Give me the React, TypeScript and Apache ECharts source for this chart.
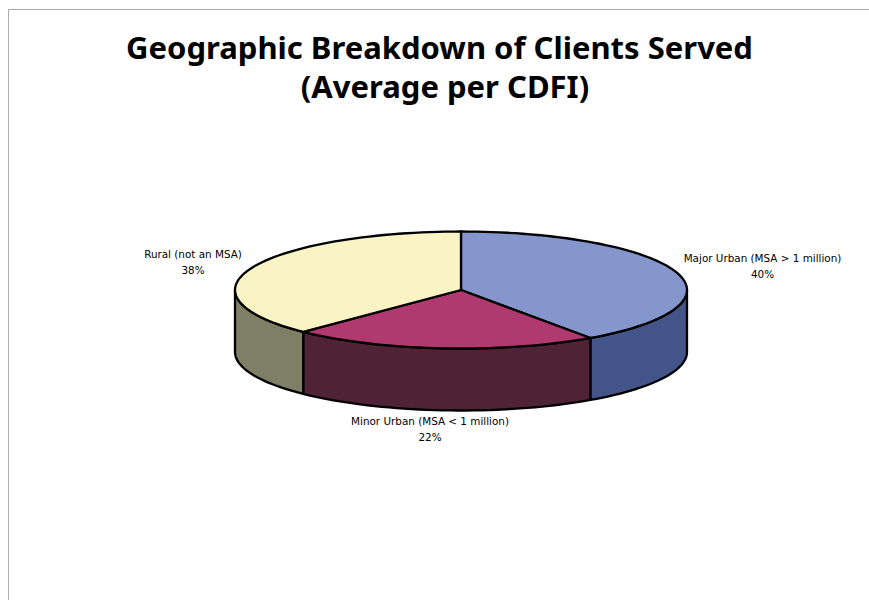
import React, { useEffect, useRef } from "react";
import * as echarts from "echarts";

const categories = ["Major Urban (MSA > 1 million)", "Minor Urban (MSA < 1 million)", "Rural (not an MSA)"];
const values = [40.3, 22, 37.7];
const topColors = ["#8596CC", "#B0396F", "#FAF4C4"];
const sideColors = ["#425488", "#502236", "#7F7F66"];
const labelCenters = [
  [762.5, 266],
  [430, 429],
  [193, 262],
];
const titleLines = ["Geographic Breakdown of Clients Served", "(Average per CDFI)"];
const titleCenters = [439.5, 445];
const titleTops = [27, 66];

const CX = 461;
const CY = 290;
const RX = 226;
const RY = 58.5;
const DEPTH = 62;
const total = values.reduce((a, b) => a + b, 0);

// angle measured clockwise from 12 o'clock, degrees
const pt = (deg: number, dy = 0): number[] => {
  const r = (deg * Math.PI) / 180;
  return [CX + RX * Math.sin(r), CY - RY * Math.cos(r) + dy];
};
const arcPts = (a: number, b: number, dy = 0): number[][] => {
  const n = Math.max(2, Math.ceil(Math.abs(b - a) / 2));
  const out: number[][] = [];
  for (let i = 0; i <= n; i++) out.push(pt(a + ((b - a) * i) / n, dy));
  return out;
};

const renderSlice = (params: any, api: any) => {
  const idx = params.dataIndex;
  let start = 0;
  for (let i = 0; i < idx; i++) start += (values[i] / total) * 360;
  const end = start + (api.value(0) / total) * 360;
  const stroke = { stroke: "#000", lineWidth: 2.3, lineJoin: "round" };
  const children: any[] = [];
  const sa = Math.max(start, 90);
  const se = Math.min(end, 270);
  if (se > sa) {
    children.push({
      type: "polygon",
      z2: 1,
      shape: { points: [...arcPts(sa, se), ...arcPts(se, sa, DEPTH)] },
      style: { fill: sideColors[idx], ...stroke },
    });
  }
  children.push({
    type: "polygon",
    z2: 2,
    shape: { points: [[CX, CY], ...arcPts(start, end)] },
    style: { fill: topColors[idx], ...stroke },
  });
  children.push({
    type: "text",
    z2: 3,
    style: {
      text: `${categories[idx]}\n${Math.round(api.value(0))}%`,
      x: labelCenters[idx][0],
      y: labelCenters[idx][1],
      align: "center",
      verticalAlign: "middle",
      fontFamily: "DejaVu Sans",
      fontSize: 10.4,
      lineHeight: 16,
      fill: "#000",
    },
  });
  return { type: "group", children };
};

export default function App() {
  const ref = useRef<HTMLDivElement>(null);
  useEffect(() => {
    const chart = echarts.init(ref.current!, null, { renderer: "svg" });
    chart.setOption({
      animation: false,
      backgroundColor: "#fff",
      title: titleLines.map((text, i) => ({
        text,
        left: titleCenters[i],
        top: titleTops[i],
        padding: 0,
        textAlign: "center",
        textStyle: {
          fontFamily: "Noto Sans",
          fontWeight: "bold",
          fontSize: 31,
          lineHeight: 39,
          color: "#000",
        },
      })),
      graphic: [
        {
          type: "polyline",
          shape: { points: [[8.5, 600], [8.5, 9.5], [869, 9.5]] },
          style: { stroke: "#ABABAB", lineWidth: 1, fill: "none" },
        },
      ],
      series: [
        {
          type: "custom",
          coordinateSystem: "none",
          renderItem: renderSlice,
          data: values.map((v, i) => ({ name: categories[i], value: [v] })),
        },
      ],
    });
    return () => chart.dispose();
  }, []);
  return <div ref={ref} style={{ position: "absolute", left: 0, top: 0, width: 869, height: 600 }} />;
}
